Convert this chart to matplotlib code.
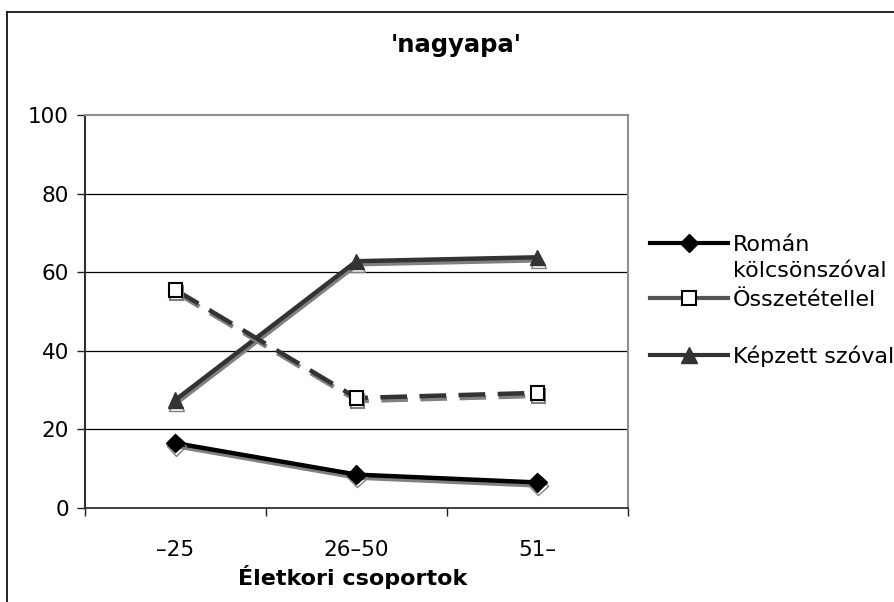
import matplotlib
matplotlib.use('Agg')
import matplotlib.pyplot as plt
import matplotlib.patheffects as pe
from matplotlib.lines import Line2D

# data
groups = ['\u201325', '26\u201350', '51\u2013']
roman = [16.5, 8.5, 6.5]
osszetetel = [55.5, 28.0, 29.3]
kepzett = [27.5, 62.8, 63.8]
labels = ['Román', 'Összetétellel', 'Képzett szóval']

plt.rcParams['font.family'] = ['DejaVu Sans']

W, H = 895, 602
fig = plt.figure(figsize=(W / 100, H / 100), dpi=100)
ax = fig.add_axes([85 / W, 1 - 508 / H, (628 - 85) / W, (508 - 115) / H])

shadow = [pe.SimpleLineShadow(offset=(0.7, -2.2), shadow_color='#808080', alpha=1.0),
          pe.Normal()]

x = list(range(len(groups)))
ax.plot(x, roman, color='black', lw=3.2, marker='D', ms=9.5,
        mfc='black', mec='black', path_effects=shadow, zorder=5)
ax.plot(x, osszetetel, color='#333333', lw=3.2, ls=(0, (6, 2.8)),
        marker='s', ms=10, mfc='white', mec='black', mew=1.5,
        path_effects=shadow, zorder=4)
ax.plot(x, kepzett, color='#333333', lw=3.2, marker='^', ms=11,
        mfc='#333333', mec='#333333', path_effects=shadow, zorder=3)

ax.set_xlim(-0.5, 2.5)
ax.set_ylim(0, 100)
ax.set_yticks([0, 20, 40, 60, 80, 100])
ax.set_xticks(x)
ax.set_xticklabels(groups)
ax.set_xticks([-0.5, 0.5, 1.5, 2.5], minor=True)
ax.tick_params(axis='x', which='major', length=0, pad=23, labelsize=15.5)
ax.tick_params(axis='x', which='minor', length=6, width=1, color='#202020')
ax.tick_params(axis='y', length=6, width=1, color='#202020', pad=5.5, labelsize=15.5)
for y in [20, 40, 60, 80]:
    ax.axhline(y, color='black', lw=0.9, zorder=1)

ax.spines['top'].set_color('#909090')
ax.spines['right'].set_color('#909090')
ax.spines['top'].set_linewidth(1.5)
ax.spines['right'].set_linewidth(1.5)
ax.spines['left'].set_color('#303030')
ax.spines['left'].set_linewidth(1.5)
ax.spines['bottom'].set_color('#202020')
ax.spines['bottom'].set_linewidth(1.2)

fig.text(456 / W, 1 - 45 / H, "'nagyapa'", ha='center', va='center',
         fontsize=17.5, fontweight='bold')
fig.text(353 / W, 1 - 577 / H, 'Életkori csoportok', ha='center', va='center',
         fontsize=16, fontweight='bold')

# legend handles without the shadow
handles = [
    Line2D([], [], color='black', lw=3, marker='D', ms=9, mfc='black', mec='black'),
    Line2D([], [], color='#555555', lw=3, marker='s', ms=10, mfc='white',
           mec='black', mew=1.5),
    Line2D([], [], color='#333333', lw=3, marker='^', ms=11, mfc='#333333',
           mec='#333333'),
]
leg = fig.legend(handles, labels, loc='upper left',
                 bbox_to_anchor=(650 / W, 1 - 235 / H), frameon=False,
                 fontsize=16, handlelength=3.5, handletextpad=0.22,
                 labelspacing=1.58, borderpad=0, borderaxespad=0)
# second line of the first label, hung under "Román"
note = plt.Annotation('kölcsönszóval', xy=(0, 0), xycoords=leg.get_texts()[0],
                      xytext=(0, -19), textcoords='offset points',
                      ha='left', va='bottom', fontsize=16)
note.set_zorder(10)
fig.add_artist(note)

# outer chart border
fig.add_artist(Line2D([7 / W, 7 / W], [0, 1 - 12 / H], color='black', lw=1.2,
                      transform=fig.transFigure))
fig.add_artist(Line2D([7 / W, 1], [1 - 12 / H, 1 - 12 / H], color='black', lw=1.2,
                      transform=fig.transFigure))

fig.savefig('out.png', dpi=100)
